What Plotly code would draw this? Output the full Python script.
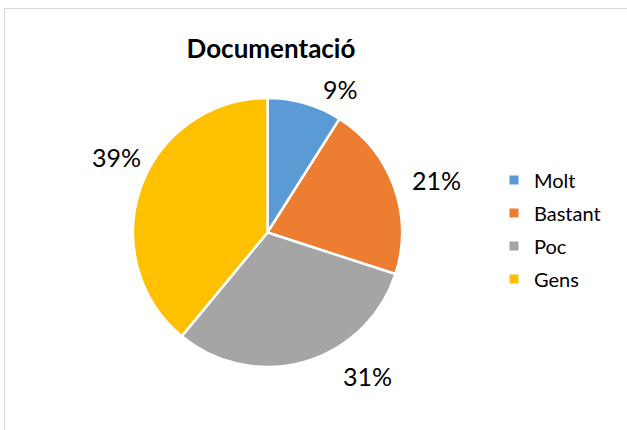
import math
import plotly.graph_objects as go

# Survey answers for "Documentació"
categories = ["Molt", "Bastant", "Poc", "Gens"]
shares = [9, 21, 31, 39]
colors = ["#5B9BD5", "#ED7D31", "#A5A5A5", "#FFC000"]

W, H = 627, 430
FONT = "Lato, 'Open Sans', sans-serif"

# Pie geometry in pixels
CX, CY, R = 267.5, 232.5, 134.5

# Best-fit placement of the outside percentage labels:
# angular nudge (degrees, clockwise) from each slice's middle and distance from centre
label_nudge_deg = [10.8, 2.4, -18.7, 6.7]
label_dist_px = [161, 177, 175, 169]

fig = go.Figure()

fig.add_trace(go.Pie(
    labels=categories,
    values=shares,
    sort=False,
    direction="clockwise",
    rotation=0,
    marker=dict(colors=colors, line=dict(color="white", width=2.5)),
    textinfo="none",
    showlegend=False,
    hoverinfo="label+percent",
    domain=dict(x=[(CX - R) / W, (CX + R) / W], y=[1 - (CY + R) / H, 1 - (CY - R) / H]),
))

# Percentage labels outside each slice
total = sum(shares)
annotations = []
cum = 0
for s, nudge, dist in zip(shares, label_nudge_deg, label_dist_px):
    mid = 360 * (cum + s / 2) / total + nudge
    cum += s
    px = CX + dist * math.sin(math.radians(mid))
    py = CY - dist * math.cos(math.radians(mid))
    annotations.append(dict(
        x=px / W, y=1 - py / H, xref="paper", yref="paper",
        text=f"{round(100 * s / total)}%", showarrow=False,
        xanchor="center", yanchor="middle",
        font=dict(size=25, color="#000000", family=FONT),
    ))

# Legend entries (one per category so the rows can be spaced apart)
for name, col in zip(categories, colors):
    fig.add_trace(go.Scatter(
        x=[None], y=[None], mode="markers", name=name,
        legendgroup=name,
        marker=dict(symbol="square", size=9, color=col),
    ))

fig.update_layout(
    width=W, height=H,
    margin=dict(l=0, r=0, t=0, b=0),
    paper_bgcolor="white",
    plot_bgcolor="white",
    xaxis=dict(visible=False),
    yaxis=dict(visible=False),
    title=dict(
        text="<b>Documentació</b>",
        x=271 / W, xanchor="center",
        y=1 - 49 / H, yanchor="middle",
        font=dict(size=26, color="#000000", family=FONT),
    ),
    annotations=annotations,
    legend=dict(
        x=494 / W, xanchor="left",
        y=1 - 229.5 / H, yanchor="middle",
        font=dict(size=20, color="#000000", family=FONT),
        tracegroupgap=4,
        traceorder="grouped",
        bgcolor="rgba(0,0,0,0)",
    ),
    shapes=[dict(
        type="rect", xref="paper", yref="paper",
        x0=4.5 / W, x1=1.02, y0=-0.02, y1=1 - 8.5 / H,
        line=dict(color="#D9D9D9", width=1),
        fillcolor="rgba(0,0,0,0)", layer="below",
    )],
)

fig.write_html("out.html")
